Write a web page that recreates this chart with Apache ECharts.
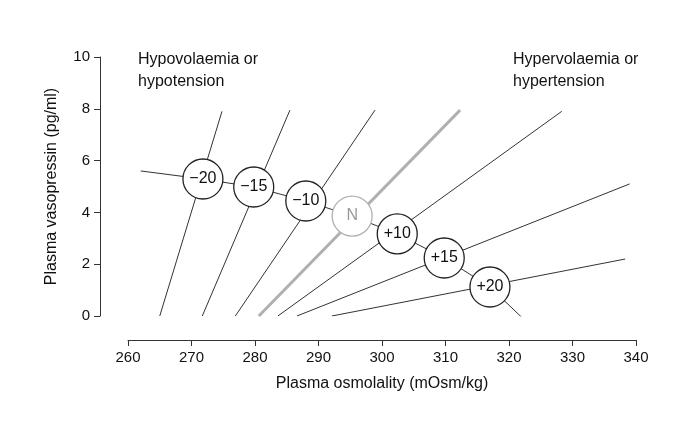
<!DOCTYPE html>
<html>
<head>
<meta charset="UTF-8">
<style>
  * { margin: 0; padding: 0; }
  #chart { width: 688px; height: 432px; background: #fff; }
</style>
</head>
<body>
<div id="chart"></div>
<script src="https://cdn.jsdelivr.net/npm/echarts@6/dist/echarts.min.js"></script>
<script>
// iso-lines: [x at bottom, y bottom], [x at top, y top]
var lineNames = ['-20', '-15', '-10', 'N', '+10', '+15', '+20'];
var lineStart = [[265, 0], [271.7, 0], [276.9, 0], [280.6, 0], [283.6, 0], [286.6, 0], [292.1, 0]];
var lineEnd = [[274.8, 7.9], [285.5, 7.95], [298.9, 7.95], [312.3, 7.95], [328.3, 7.9], [339, 5.1], [338.3, 2.2]];
// circle markers
var circleLabels = ['\u221220', '\u221215', '\u221210', 'N', '+10', '+15', '+20'];
var circleX = [271.8, 279.8, 288, 295.3, 302.4, 309.8, 317];
var circleY = [5.29, 4.98, 4.44, 3.86, 3.17, 2.24, 1.12];
// line joining the circles: ends plus the circle centres
var pathStart = [262, 5.6];
var pathEnd = [322, -0.05];

var font = 'Liberation Sans, Arial, sans-serif';
var series = [];
for (var i = 0; i < lineNames.length; i++) {
  var isN = lineNames[i] === 'N';
  series.push({
    type: 'line', symbol: 'none', silent: true,
    data: [lineStart[i], lineEnd[i]],
    lineStyle: { color: isN ? '#b0b0b0' : '#333', width: isN ? 3 : 1 },
    z: 1
  });
}
var pathData = [pathStart];
for (var k = 0; k < circleX.length; k++) pathData.push([circleX[k], circleY[k]]);
pathData.push(pathEnd);
series.push({
  type: 'line', symbol: 'none', data: pathData,
  lineStyle: { color: '#333', width: 1 }, z: 1
});
var pts = [];
for (var j = 0; j < circleX.length; j++) {
  var n = circleLabels[j] === 'N';
  pts.push({
    value: [circleX[j], circleY[j]],
    itemStyle: { borderColor: n ? '#b0b0b0' : '#222' },
    label: { color: n ? '#999' : '#111' },
    name: circleLabels[j]
  });
}
series.push({
  type: 'scatter', symbolSize: 40, data: pts, z: 5,
  itemStyle: { color: '#fff', borderWidth: 1.3, opacity: 1 },
  label: {
    show: true, position: 'inside', fontSize: 16, fontFamily: font,
    formatter: function (p) { return p.name; }
  }
});

var chart = echarts.init(document.getElementById('chart'));
chart.setOption({
  animation: false,
  title: [
    { text: 'Hypovolaemia or\nhypotension', left: 133, top: 44,
      textStyle: { fontSize: 16, fontWeight: 'normal', fontFamily: font, color: '#111', lineHeight: 22 } },
    { text: 'Hypervolaemia or\nhypertension', left: 508, top: 44,
      textStyle: { fontSize: 16, fontWeight: 'normal', fontFamily: font, color: '#111', lineHeight: 22 } }
  ],
  grid: { left: 128, right: 52, top: 57, bottom: 116 },
  xAxis: {
    type: 'value', min: 260, max: 340, interval: 10, offset: 24,
    name: 'Plasma osmolality (mOsm/kg)', nameLocation: 'middle', nameGap: 36,
    nameTextStyle: { fontSize: 16, fontFamily: font, color: '#111' },
    axisLine: { show: true, onZero: false, lineStyle: { color: '#333' } },
    axisTick: { show: true, length: 6, lineStyle: { color: '#333' } },
    axisLabel: { fontSize: 15, fontFamily: font, color: '#111', margin: 10 },
    splitLine: { show: false }
  },
  yAxis: {
    type: 'value', min: 0, max: 10, interval: 2, offset: 28,
    name: 'Plasma vasopressin (pg/ml)', nameLocation: 'middle', nameGap: 40,
    nameTextStyle: { fontSize: 16, fontFamily: font, color: '#111' },
    axisLine: { show: true, onZero: false, lineStyle: { color: '#333' } },
    axisTick: { show: true, length: 6, lineStyle: { color: '#333' } },
    axisLabel: { fontSize: 15, fontFamily: font, color: '#111', margin: 10 },
    splitLine: { show: false }
  },
  series: series
});
</script>
</body>
</html>
